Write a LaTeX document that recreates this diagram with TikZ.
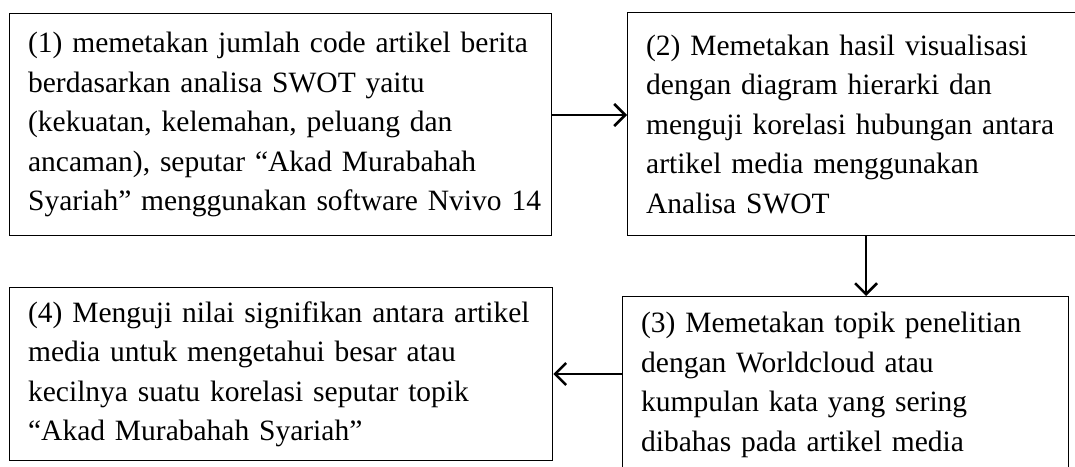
\documentclass[tikz,border=0pt]{standalone}
\usepackage{fontspec}
\setmainfont{Liberation Serif}
\usetikzlibrary{arrows.meta}
\tikzset{stepbox/.style = {shape=rectangle,draw,line width=1.3pt,anchor=north west,align=left,inner xsep=18.5pt,inner ysep=0pt,font=\fontsize{29.5}{39.5}\selectfont}}
\tikzset{edge/.style = {-{Straight Barb[length=11pt,width=22pt,line width=2.5pt]},line width=2.6pt}}

\begin{document}
\begin{tikzpicture}[x=1pt,y=-1pt]
            \useasboundingbox (0,0) rectangle (1075,466);
            \node[stepbox,text width=505pt,minimum height=222pt] (s1) at (9,13) {(1) memetakan jumlah code artikel berita\\berdasarkan analisa SWOT yaitu\\(kekuatan, kelemahan, peluang dan\\ancaman), seputar “Akad Murabahah\\\mbox{Syariah” menggunakan software Nvivo 14}};
            \node[stepbox,text width=416pt,minimum height=223pt] (s2) at (627,12) {(2) Memetakan hasil visualisasi\\dengan diagram hierarki dan\\menguji korelasi hubungan antara\\artikel media menggunakan\\Analisa SWOT};
            \node[stepbox,text width=409pt,minimum height=176pt] (s3) at (622,296) {(3) Memetakan topik penelitian\\dengan Worldcloud atau\\kumpulan kata yang sering\\dibahas pada artikel media};
            \node[stepbox,text width=506pt,minimum height=173pt] (s4) at (9,287) {(4) Menguji nilai signifikan antara artikel\\media untuk mengetahui besar atau\\kecilnya suatu korelasi seputar topik\\“Akad Murabahah Syariah”};
            \coordinate (r) at (0,115);
            \coordinate (d) at (866,0);
            \coordinate (l) at (0,374);
            \draw[edge] (s1.east |- r) -- (s2.west |- r);
            \draw[edge] (s2.south -| d) -- (s3.north -| d);
            \draw[edge] (s3.west |- l) -- (s4.east |- l);
        \end{tikzpicture}
\end{document}
